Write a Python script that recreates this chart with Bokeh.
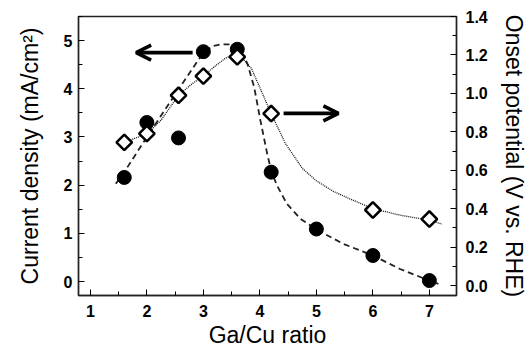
import numpy as np
from bokeh.plotting import figure
from bokeh.models import Range1d, LinearAxis, FixedTicker, Arrow, OpenHead, PrintfTickFormatter
from bokeh.embed import file_html
from bokeh.resources import INLINE

# ---- data ----
ratio_cur = [1.6, 2.0, 2.56, 3.0, 3.6, 4.2, 5.0, 6.0, 7.0]
current_density = [2.16, 3.3, 2.98, 4.77, 4.82, 2.27, 1.09, 0.54, 0.02]

ratio_onset = [1.6, 2.0, 2.56, 3.0, 3.6, 4.2, 6.0, 7.0]
onset_potential = [0.745, 0.79, 0.99, 1.09, 1.19, 0.895, 0.393, 0.346]

# fitted guide curves
dash_x = [1.45, 1.6, 2.0, 2.5, 2.9, 3.0, 3.15, 3.3, 3.45, 3.6, 3.7, 3.78, 3.9, 4.01, 4.13, 4.2, 4.3, 4.48, 4.72, 5.0, 5.48, 6.0, 6.48, 7.0, 7.16]
dash_y = [2.03, 2.27, 3.0, 3.88, 4.58, 4.74, 4.88, 4.92, 4.92, 4.84, 4.7, 4.52, 4.03, 3.34, 2.65, 2.3, 2.0, 1.61, 1.3, 1.08, 0.78, 0.54, 0.26, 0.02, -0.05]

dot_x = [1.55, 1.6, 2.0, 2.25, 2.56, 2.8, 3.0, 3.2, 3.4, 3.55, 3.7, 3.85, 4.0, 4.2, 4.45, 4.75, 5.0, 5.3, 5.6, 6.0, 6.5, 7.0, 7.22]
dot_y = [0.735, 0.745, 0.79, 0.86, 0.99, 1.05, 1.09, 1.14, 1.185, 1.2, 1.18, 1.13, 1.03, 0.895, 0.74, 0.61, 0.545, 0.49, 0.45, 0.40, 0.365, 0.34, 0.32]

x_ticks = [1, 2, 3, 4, 5, 6, 7]
left_ticks = [0, 1, 2, 3, 4, 5]
right_ticks = [0.0, 0.2, 0.4, 0.6, 0.8, 1.0, 1.2, 1.4]

# arrows (data coordinates, left axis units)
arrow_left = dict(x0=2.81, x1=1.81, y=4.75)
arrow_right = dict(x0=4.42, x1=5.39, y=3.49)

FONT = "Liberation Sans"

p = figure(width=529, height=350, output_backend="svg", toolbar_location=None,
           x_range=Range1d(0.79, 7.48), y_range=Range1d(-0.29, 5.5),
           min_border_left=78, min_border_right=71, min_border_top=16, min_border_bottom=55)
p.extra_y_ranges = {"onset": Range1d(-0.052, 1.4)}

p.xgrid.visible = False
p.ygrid.visible = False
p.outline_line_color = "#222222"
p.outline_line_width = 1.4
p.background_fill_color = "white"
p.border_fill_color = "white"

# x axis
xa = p.xaxis[0]
xa.ticker = FixedTicker(ticks=x_ticks, minor_ticks=[1.5, 2.5, 3.5, 4.5, 5.5, 6.5])
xa.axis_label = "Ga/Cu ratio"

# left axis
ya = p.yaxis[0]
ya.ticker = FixedTicker(ticks=left_ticks, minor_ticks=[0.5, 1.5, 2.5, 3.5, 4.5, 5.5, -0.5])
ya.axis_label = "Current density (mA/cm²)"

# right axis
ra = LinearAxis(y_range_name="onset", axis_label="Onset potential (V vs. RHE)")
ra.ticker = FixedTicker(ticks=right_ticks, minor_ticks=[0.1, 0.3, 0.5, 0.7, 0.9, 1.1, 1.3])
p.add_layout(ra, "right")

for ax in (xa, ya, ra):
    ax.axis_line_color = "#222222"
    ax.axis_line_width = 1.4
    ax.major_tick_in = 6
    ax.major_tick_out = 0
    ax.minor_tick_in = 4
    ax.minor_tick_out = 0
    ax.major_tick_line_color = "black"
    ax.minor_tick_line_color = "black"
    ax.major_label_text_font = FONT
    ax.major_label_text_font_style = "bold"
    ax.major_label_text_font_size = "16px"
    ax.major_label_text_color = "black"
    ax.axis_label_text_font = FONT
    ax.axis_label_text_font_style = "normal"
    ax.axis_label_text_font_size = "23px"
    ax.axis_label_text_color = "black"

ra.formatter = PrintfTickFormatter(format="%.1f")
xa.major_label_standoff = 9
xa.axis_label_standoff = 2
ya.major_label_standoff = 6
ya.axis_label_standoff = 18
ra.major_label_standoff = 9
ra.axis_label_standoff = 10

# fit curves
p.line(dash_x, dash_y, line_color="#222222", line_width=1.8, line_dash="6 4")
p.line(dot_x, dot_y, y_range_name="onset", line_color="#111111", line_width=1.3, line_dash="1 1")

# markers
p.scatter(ratio_cur, current_density, marker="circle", size=14,
          fill_color="black", line_color="black")
p.scatter(ratio_onset, onset_potential, y_range_name="onset", marker="square",
          angle=np.pi / 4, size=11, fill_color="white", line_color="black", line_width=2.5)

# arrows
p.add_layout(Arrow(end=OpenHead(size=15, line_width=3.5, line_color="black"),
                   x_start=arrow_left["x0"], y_start=arrow_left["y"],
                   x_end=arrow_left["x1"], y_end=arrow_left["y"],
                   line_width=3.8, line_color="black"))
p.add_layout(Arrow(end=OpenHead(size=15, line_width=3.5, line_color="black"),
                   x_start=arrow_right["x0"], y_start=arrow_right["y"],
                   x_end=arrow_right["x1"], y_end=arrow_right["y"],
                   line_width=3.8, line_color="black"))

open("out.html", "w").write(file_html(p, INLINE))
